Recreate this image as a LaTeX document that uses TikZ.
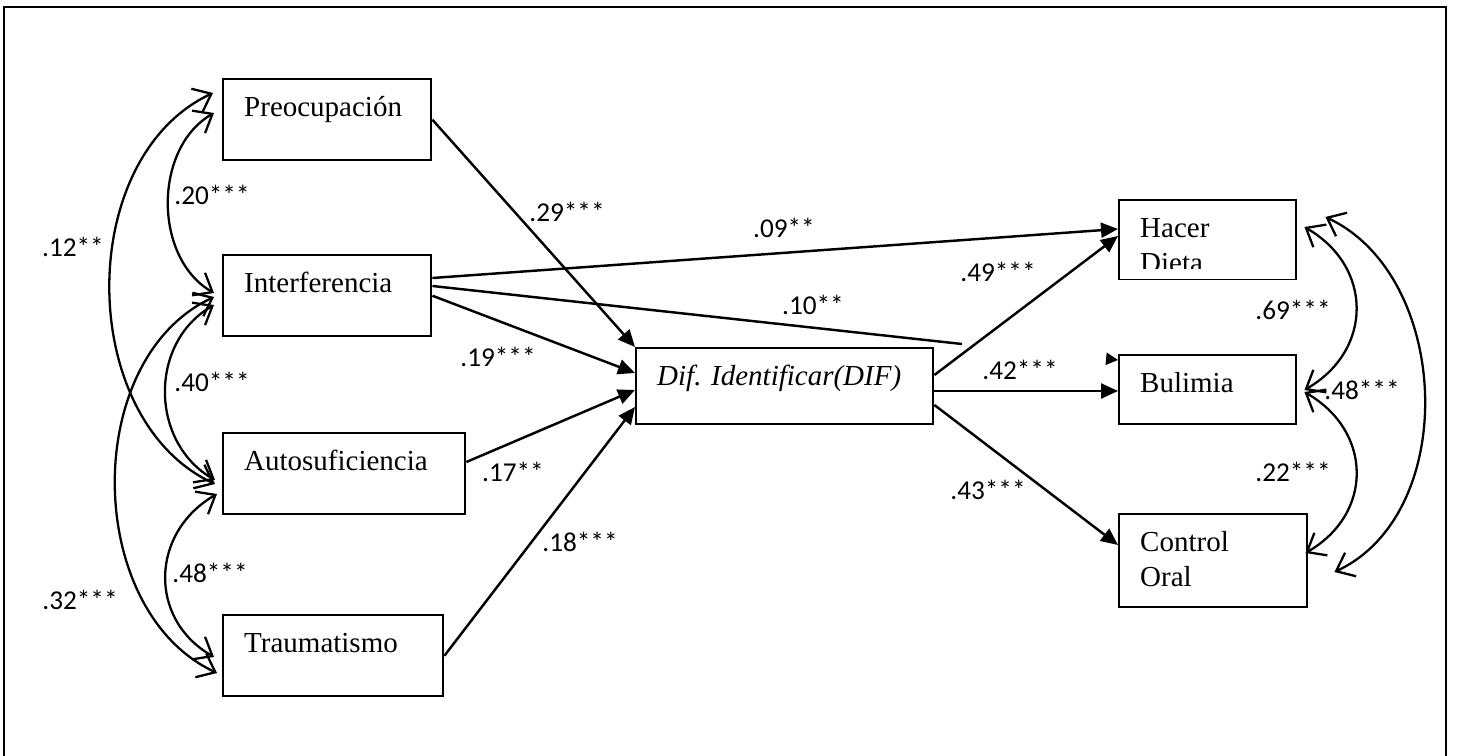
\documentclass[tikz,border=0pt]{standalone}
\usepackage{fontspec}
\setmainfont{Liberation Serif}
\newfontfamily\cflfont{Carlito}
\usetikzlibrary{arrows.meta,calc}
\tikzset{
  vbl/.style={draw=black,line width=1.4pt,anchor=north west,align=left,inner xsep=0.42cm,inner ysep=0pt,text height=0.74cm,font=\fontsize{16.5}{19.8}\selectfont},
  pth/.style={-{Triangle[length=3.4mm,width=3mm]},line width=1.4pt},
  pthcut/.style={line width=1.4pt},
  pthtip/.style={-{Triangle[length=2.4mm,width=2.4mm]},line width=1.4pt},
  cov/.style={{Straight Barb[length=3.2mm,width=5.2mm]}-{Straight Barb[length=3.2mm,width=5.2mm]},line width=1.3pt},
  cf/.style={font=\cflfont\fontsize{15.5}{18}\selectfont},
  frm/.style={line width=1.3pt},
}
\begin{document}
\begin{tikzpicture}[x=0.02cm,y=-0.02cm]
\useasboundingbox (0,0) rectangle (1464,756);
\draw[frm] (4,756) -- (4,7) -- (1446,7) -- (1446,756);
% predictors
\node[vbl,text width=3.32cm,text depth=0.88cm] (preo) at (222,78) {Preocupación};
\node[vbl,text width=3.32cm,text depth=0.88cm] (int) at (222,254) {Interferencia};
\node[vbl,text width=4.0cm,text depth=0.88cm] (auto) at (222,432) {Autosuficiencia};
\node[vbl,text width=3.56cm,text depth=0.88cm] (trau) at (222,614) {Traumatismo};
% mediator
\node[vbl,text width=5.1cm,text depth=0.78cm] (dif) at (635,347) {\itshape Dif.\ Identificar(DIF)};
% outcomes
\node[vbl,text width=2.7cm,text depth=0.84cm] (hd) at (1118,199) {Hacer\\Dieta};
\node[vbl,text width=2.7cm,text depth=0.64cm] (bul) at (1118,354) {Bulimia};
\node[vbl,text width=2.92cm,text depth=1.12cm] (co) at (1118,513) {Control\\Oral};
\fill[white] ($(hd.south west)+(2,-11)$) rectangle ($(hd.south east)+(-2,-1.5)$);
% direct paths
\draw[pth] (preo.east) -- (dif.north west);
\draw[pth] (int.east) -- ($(dif.north west)+(0,26)$);
\draw[pth] ($(int.north east)+(0,24)$) -- ($(hd.north west)+(0,30)$);
\coordinate (cut) at (962,344);
\draw[pthcut] ($(int.north east)+(0,32)$) -- (cut);
\draw[pthtip] ($(bul.north west)+(-2,5.8)$) -- ($(bul.north west)+(0,6)$);
\draw[pth] ($(auto.north east)+(0,30)$) -- ($(dif.north west)+(0,43)$);
\draw[pth] (trau.east) -- ($(dif.north west)+(0,60)$);
\draw[pth] ($(dif.north east)+(0,28)$) -- ($(hd.north west)+(0,37)$);
\draw[pth] ($(dif.north east)+(0,44)$) -- ($(bul.north west)+(0,37)$);
\draw[pth] ($(dif.north east)+(0,58)$) -- ($(co.north west)+(0,32)$);
% covariances
\draw[cov] ($(preo.north west)+(-8,35)$) to[out=210,in=150] ($(int.north west)+(-8,39)$);
\draw[cov] ($(preo.north west)+(-9,15)$) to[out=205,in=155] ($(auto.north west)+(-7,52)$);
\draw[cov] ($(int.north west)+(-8,43)$) to[out=205,in=155] ($(trau.north west)+(-5,59)$);
\draw[cov] ($(int.north west)+(-8,51)$) to[out=210,in=150,looseness=1.1] ($(auto.north west)+(-7,48)$);
\draw[cov] ($(auto.north west)+(-5,62)$) to[out=210,in=150,looseness=1.2] ($(trau.north west)+(-8,43)$);
\draw[cov] ($(hd.north east)+(7,28)$) to[out=-30,in=30,looseness=1.25] ($(bul.north east)+(7,36)$);
\draw[cov] ($(bul.north east)+(7,38)$) to[out=-30,in=30,looseness=1.25] ($(co.north east)+(-3,40)$);
\draw[cov] ($(hd.north east)+(28,18)$) to[out=-25,in=25] ($(co.north east)+(26,59)$);
% coefficients
\node[cf] (c20) at (212,195) {.20***};
\node[cf] (c12) at (73,247) {.12**};
\node[cf] (c40) at (212,382) {.40***};
\node[cf] (c48a) at (210,573) {.48***};
\node[cf] (c32) at (80,600) {.32***};
\node[cf] (c29) at (567,212) {.29***};
\node[cf] (c09) at (784,228) {.09**};
\node[cf] (c10) at (813,305) {.10**};
\node[cf] (c19) at (498,357) {.19***};
\node[cf] (c17) at (513,472) {.17**};
\node[cf] (c18) at (580,542) {.18***};
\node[cf] (c49) at (998,272) {.49***};
\node[cf] (c42) at (1020,370) {.42***};
\node[cf] (c43) at (988,490) {.43***};
\node[cf] (c69) at (1293,310) {.69***};
\node[cf] (c22) at (1293,472) {.22***};
\node[cf] (c48b) at (1362,390) {.48***};
\end{tikzpicture}
\end{document}
